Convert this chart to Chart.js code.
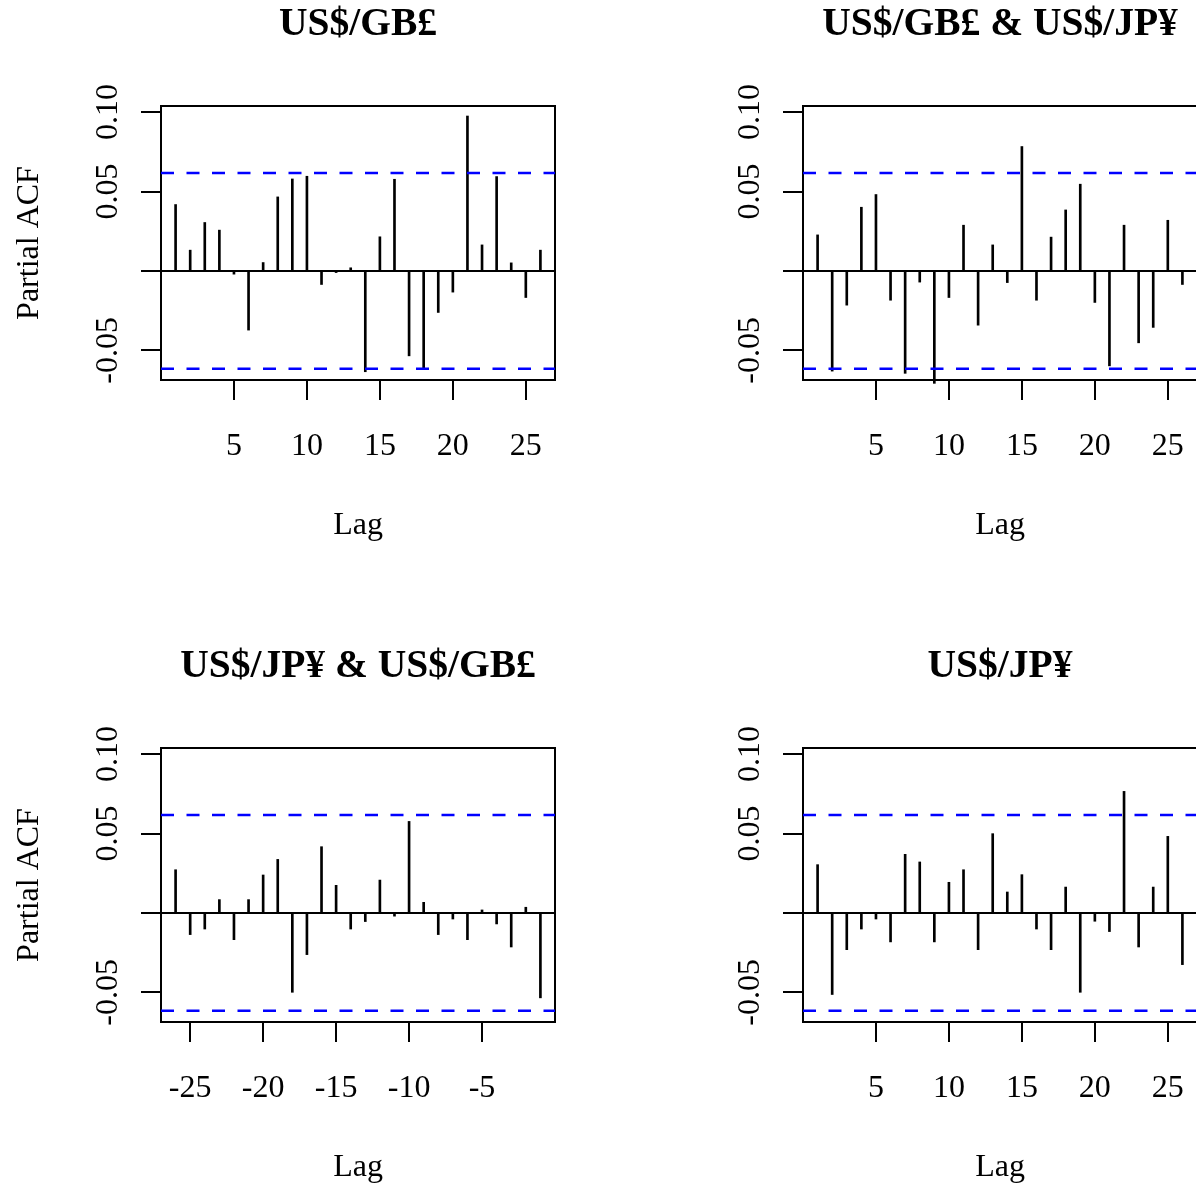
<!DOCTYPE html>
<html><head><meta charset="utf-8">
<script src="https://cdn.jsdelivr.net/npm/chart.js@4"></script>
<style>
html,body{margin:0;padding:0;background:#fff;overflow:hidden;width:1196px;height:1192px;position:relative;}
canvas{position:absolute;}
</style></head><body>
<canvas id="pTL" width="598" height="596" style="left:0px;top:0px"></canvas>
<canvas id="pTR" width="602" height="596" style="left:598px;top:0px"></canvas>
<canvas id="pBL" width="598" height="596" style="left:0px;top:596px"></canvas>
<canvas id="pBR" width="602" height="596" style="left:598px;top:596px"></canvas>
<script>
// ---------------- data ----------------
const lagsPos = [1,2,3,4,5,6,7,8,9,10,11,12,13,14,15,16,17,18,19,20,21,22,23,24,25,26];
const lagsNeg = [-26,-25,-24,-23,-22,-21,-20,-19,-18,-17,-16,-15,-14,-13,-12,-11,-10,-9,-8,-7,-6,-5,-4,-3,-2,-1];

const pacfGB   = [0.0418, 0.0131, 0.0305, 0.0257, -0.0020, -0.0372, 0.0053, 0.0466, 0.0579, 0.0596, -0.0085, -0.0010, 0.0020, -0.0634, 0.0215, 0.0577, -0.0534, -0.0613, -0.0261, -0.0133, 0.0975, 0.0164, 0.0594, 0.0051, -0.0167, 0.0131];
const pacfGBJP = [0.0227, -0.0630, -0.0215, 0.0401, 0.0481, -0.0184, -0.0644, -0.0070, -0.0707, -0.0167, 0.0288, -0.0341, 0.0164, -0.0073, 0.0783, -0.0184, 0.0213, 0.0384, 0.0546, -0.0198, -0.0597, 0.0288, -0.0452, -0.0355, 0.0319, -0.0085];
const pacfJPGB = [0.0272, -0.0136, -0.0101, 0.0084, -0.0168, 0.0084, 0.0239, 0.0337, -0.0499, -0.0262, 0.0417, 0.0174, -0.0101, -0.0054, 0.0207, -0.0020, 0.0576, 0.0067, -0.0136, -0.0038, -0.0168, 0.0019, -0.0069, -0.0214, 0.0036, -0.0534];
const pacfJP   = [0.0304, -0.0513, -0.0231, -0.0101, -0.0038, -0.0182, 0.0369, 0.0321, -0.0182, 0.0193, 0.0272, -0.0231, 0.0499, 0.0132, 0.0241, -0.0101, -0.0231, 0.0163, -0.0499, -0.0052, -0.0117, 0.0765, -0.0214, 0.0163, 0.0482, -0.0325];

const panelTitles = ['US$/GB£', 'US$/GB£ & US$/JP¥', 'US$/JP¥ & US$/GB£', 'US$/JP¥'];
const ciLimit = 0.0616;
const yRange = [-0.0686, 0.1038];
const yTicks = [-0.05, 0, 0.05, 0.10];
const yTickLabels = ['-0.05', '', '0.05', '0.10'];
const xRangePos = [0, 27];
const xRangeNeg = [-27, 0];
const xTicksPos = [5, 10, 15, 20, 25];
const xTickLabelsPos = ['5', '10', '15', '20', '25'];
const xTicksNeg = [-25, -20, -15, -10, -5];
const xTickLabelsNeg = ['-25', '-20', '-15', '-10', '-5'];
const yTitleText = 'Partial ACF';
const xTitleText = 'Lag';

// ---------------- layout (pixels) ----------------
const FONT = '"Liberation Serif", "Times New Roman", serif';
Chart.defaults.font.family = FONT;
Chart.defaults.color = '#000';

const layouts = {
  pTL: {padTop: 106, padRight: 43, yWidth: 161, xHeight: 216, xTitlePad: 51, titleGap: 71},
  pTR: {padTop: 106, padRight: 3,  yWidth: 205, xHeight: 216, xTitlePad: 51, titleGap: 71},
  pBL: {padTop: 152, padRight: 43, yWidth: 161, xHeight: 170, xTitlePad: 5,  titleGap: 71},
  pBR: {padTop: 152, padRight: 3,  yWidth: 205, xHeight: 170, xTitlePad: 5,  titleGap: 71}
};

const framePlugin = {
  id: 'rFrame',
  beforeDatasetsDraw(chart) {
    const a = chart.chartArea, ctx = chart.ctx;
    ctx.save();
    ctx.strokeStyle = '#000';
    ctx.lineWidth = 2;
    ctx.strokeRect(a.left, a.top, a.right - a.left, a.bottom - a.top);
    ctx.restore();
  }
};
const titlePlugin = {
  id: 'rTitle',
  afterDraw(chart, args, opts) {
    const a = chart.chartArea, ctx = chart.ctx;
    ctx.save();
    ctx.font = 'bold 39.5px ' + FONT;
    ctx.fillStyle = '#000';
    ctx.textAlign = 'center';
    ctx.textBaseline = 'alphabetic';
    ctx.fillText(opts.text, (a.left + a.right) / 2, a.top - opts.gap);
    ctx.restore();
  }
};

function makePanel(id, lags, vals, xr, xt, xtl, title, showYTitle) {
  const lay = layouts[id];
  new Chart(document.getElementById(id), {
    type: 'bar',
    data: {
      datasets: [
        {type: 'line', data: [{x: xr[0], y: ciLimit}, {x: xr[1], y: ciLimit}], borderColor: '#0000ff', borderWidth: 2.5, borderDash: [13, 12.5], pointRadius: 0, order: 0},
        {type: 'line', data: [{x: xr[0], y: -ciLimit}, {x: xr[1], y: -ciLimit}], borderColor: '#0000ff', borderWidth: 2.5, borderDash: [13, 12.5], pointRadius: 0, order: 0},
        {type: 'bar', data: lags.map((l, i) => ({x: l, y: vals[i]})), backgroundColor: '#000', borderWidth: 0, barThickness: 2, order: 1, clip: false},
        {type: 'line', data: [{x: xr[0], y: 0}, {x: xr[1], y: 0}], borderColor: '#000', borderWidth: 2, pointRadius: 0, order: 2}
      ]
    },
    options: {
      responsive: false,
      animation: false,
      events: [],
      layout: {autoPadding: false, padding: {left: 0, top: lay.padTop, right: lay.padRight, bottom: 0}},
      plugins: {
        legend: {display: false},
        tooltip: {enabled: false},
        title: {display: false},
        rTitle: {text: title, gap: lay.titleGap}
      },
      scales: {
        x: {
          type: 'linear', position: 'bottom', offset: false, min: xr[0], max: xr[1],
          afterBuildTicks: s => { s.ticks = xt.map(v => ({value: v})); },
          afterFit: s => { s.height = lay.xHeight; s.paddingLeft = 0; s.paddingRight = 0; },
          ticks: {autoSkip: false, minRotation: 0, maxRotation: 0, padding: 27, color: '#000', font: {size: 32},
                  callback: (v, i) => xtl[i]},
          grid: {offset: false, drawOnChartArea: false, drawTicks: true, tickLength: 20, lineWidth: 2, color: '#000'},
          border: {display: false},
          title: {display: true, text: xTitleText, color: '#000', font: {size: 32}, padding: {top: 0, bottom: lay.xTitlePad}}
        },
        y: {
          type: 'linear', position: 'left', min: yRange[0], max: yRange[1],
          afterBuildTicks: s => { s.ticks = yTicks.map(v => ({value: v})); },
          afterFit: s => { s.width = lay.yWidth; s.paddingTop = 0; s.paddingBottom = 0; },
          ticks: {autoSkip: false, minRotation: 90, maxRotation: 90, crossAlign: 'center', padding: -1.3, color: '#000', font: {size: 32},
                  callback: (v, i) => yTickLabels[i]},
          grid: {offset: false, drawOnChartArea: false, drawTicks: true, tickLength: 20, lineWidth: 2, color: '#000'},
          border: {display: false},
          title: {display: showYTitle, text: yTitleText, color: '#000', font: {size: 32}, padding: {top: 10, bottom: 0}}
        }
      }
    },
    plugins: [framePlugin, titlePlugin]
  });
}

makePanel('pTL', lagsPos, pacfGB,   xRangePos, xTicksPos, xTickLabelsPos, panelTitles[0], true);
makePanel('pTR', lagsPos, pacfGBJP, xRangePos, xTicksPos, xTickLabelsPos, panelTitles[1], false);
makePanel('pBL', lagsNeg, pacfJPGB, xRangeNeg, xTicksNeg, xTickLabelsNeg, panelTitles[2], true);
makePanel('pBR', lagsPos, pacfJP,   xRangePos, xTicksPos, xTickLabelsPos, panelTitles[3], false);
</script>
</body></html>
